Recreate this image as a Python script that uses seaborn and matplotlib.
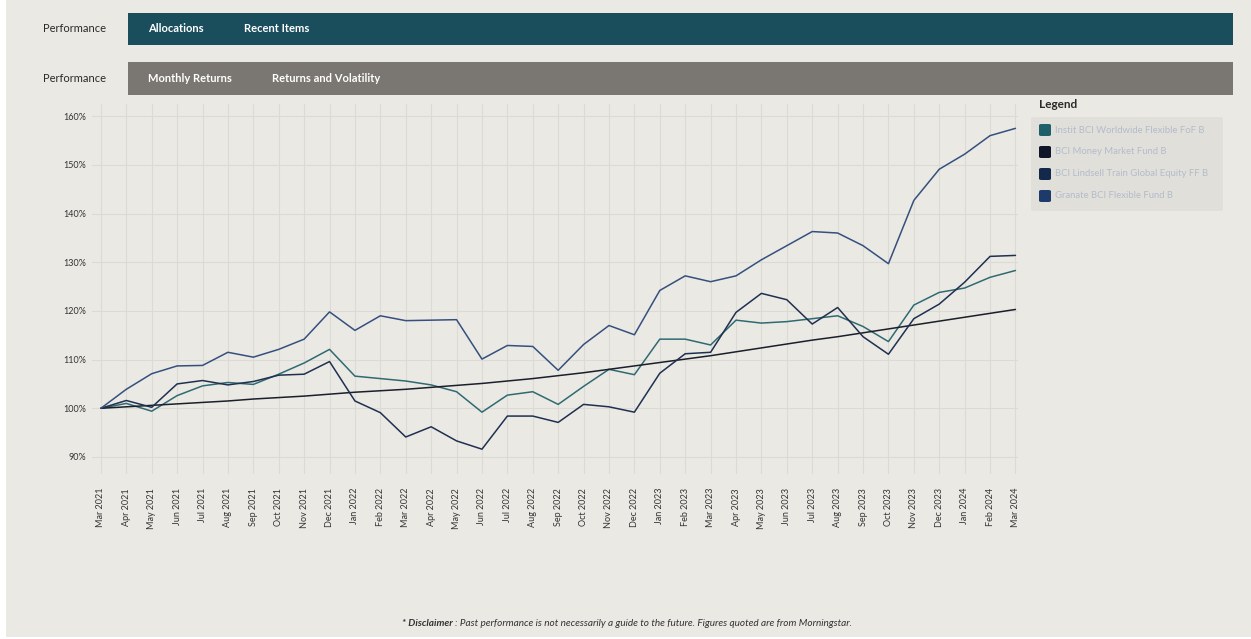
import pandas as pd
import matplotlib.pyplot as plt
import seaborn as sns
from matplotlib.patches import Rectangle, FancyBboxPatch
from matplotlib.ticker import FuncFormatter

# Datos (rendimiento acumulado, %)
months = ["Mar 2021", "Apr 2021", "May 2021", "Jun 2021", "Jul 2021", "Aug 2021", "Sep 2021",
          "Oct 2021", "Nov 2021", "Dec 2021", "Jan 2022", "Feb 2022", "Mar 2022", "Apr 2022",
          "May 2022", "Jun 2022", "Jul 2022", "Aug 2022", "Sep 2022", "Oct 2022", "Nov 2022",
          "Dec 2022", "Jan 2023", "Feb 2023", "Mar 2023", "Apr 2023", "May 2023", "Jun 2023",
          "Jul 2023", "Aug 2023", "Sep 2023", "Oct 2023", "Nov 2023", "Dec 2023", "Jan 2024",
          "Feb 2024", "Mar 2024"]

instit = [100.0, 101.0, 99.4, 102.6, 104.6, 105.3, 104.9, 107.0, 109.3, 112.1, 106.6, 106.1,
          105.6, 104.8, 103.4, 99.2, 102.7, 103.4, 100.8, 104.5, 108.0, 106.9, 114.2, 114.2,
          113.0, 118.1, 117.5, 117.8, 118.4, 119.0, 116.8, 113.7, 121.2, 123.8, 124.7, 126.9,
          128.3]
money = [100.0, 100.3, 100.6, 100.9, 101.2, 101.5, 101.9, 102.2, 102.5, 102.9, 103.3, 103.6,
         103.9, 104.3, 104.7, 105.1, 105.6, 106.1, 106.7, 107.3, 108.0, 108.7, 109.4, 110.1,
         110.8, 111.6, 112.4, 113.2, 114.0, 114.7, 115.5, 116.3, 117.1, 117.9, 118.7, 119.5,
         120.3]
lindsell = [100.0, 101.6, 100.2, 105.0, 105.7, 104.8, 105.5, 106.8, 107.0, 109.6, 101.5, 99.1,
            94.1, 96.2, 93.3, 91.6, 98.4, 98.4, 97.1, 100.8, 100.3, 99.2, 107.2, 111.2,
            111.5, 119.7, 123.6, 122.3, 117.3, 120.7, 114.7, 111.1, 118.4, 121.4, 125.9, 131.2,
            131.4]
granate = [100.0, 103.9, 107.1, 108.7, 108.8, 111.5, 110.5, 112.1, 114.2, 119.8, 116.0, 119.0,
           118.0, 118.1, 118.2, 110.1, 112.9, 112.7, 107.8, 113.1, 117.0, 115.1, 124.2, 127.2,
           126.0, 127.2, 130.5, 133.4, 136.3, 136.0, 133.4, 129.7, 142.7, 149.1, 152.2, 156.0,
           157.5]

fund_names = ["Instit BCI Worldwide Flexible FoF B", "BCI Money Market Fund B",
              "BCI Lindsell Train Global Equity FF B", "Granate BCI Flexible Fund B"]
line_colors = ["#2f6a72", "#1a1f2b", "#1f3050", "#35507e"]
swatch_colors = ["#1f5f69", "#0e1628", "#14284c", "#1d3a6b"]

rows = []
for name, vals in zip(fund_names, [instit, money, lindsell, granate]):
    for i, v in enumerate(vals):
        rows.append({"idx": i, "value": v, "fund": name})
df = pd.DataFrame(rows)

W, H = 1251, 639
BG = "#ebe9e4"

sns.set_theme(style="white")
plt.rcParams["font.family"] = ["Lato", "DejaVu Sans"]

fig = plt.figure(figsize=(W / 100, H / 100), dpi=100)
fig.patch.set_facecolor("white")


def px_rect(x0, y0, x1, y1, **kw):
    # rectángulo en coordenadas de píxel (origen arriba a la izquierda)
    fig.patches.append(Rectangle((x0 / W, 1 - y1 / H), (x1 - x0) / W, (y1 - y0) / H,
                                 transform=fig.transFigure, **kw))


def px_text(x, y, s, **kw):
    return fig.text(x / W, 1 - y / H, s, **kw)


# fondo del panel
px_rect(6, 0, W, 637, facecolor=BG, edgecolor="none", zorder=-10)

# barras de pestañas
px_rect(128, 13, 1233, 45, facecolor="#1b4e5d", edgecolor="none", zorder=-5)
px_rect(128, 62, 1233, 95, facecolor="#7a7671", edgecolor="none", zorder=-5)
px_text(43, 29, "Performance", fontsize=8, color="#2a2a2a", va="center")
px_text(43, 79, "Performance", fontsize=8, color="#2a2a2a", va="center")
px_text(148, 29, "Allocations", fontsize=8, color="white", fontweight="bold", va="center")
px_text(244, 29, "Recent Items", fontsize=8, color="white", fontweight="bold", va="center")
px_text(148, 79, "Monthly Returns", fontsize=8, color="white", fontweight="bold", va="center")
px_text(272, 79, "Returns and Volatility", fontsize=8, color="white", fontweight="bold", va="center")

# gráfico principal
ax_l, ax_r, ax_t, ax_b = 92, 1018, 104, 474
ax = fig.add_axes([ax_l / W, 1 - ax_b / H, (ax_r - ax_l) / W, (ax_b - ax_t) / H])
ax.set_zorder(2)
ax.set_facecolor(BG)

sns.lineplot(data=df, x="idx", y="value", hue="fund", palette=dict(zip(fund_names, line_colors)),
             hue_order=fund_names, linewidth=1.1, legend=False, ax=ax)

ax.set_xlim(-0.35, 36.1)
ax.set_ylim(86.5, 162.5)
ax.set_xticks(range(len(months)))
ax.set_xticklabels(months, rotation=90, fontsize=6.5, color="#333333")
ax.set_yticks([90, 100, 110, 120, 130, 140, 150, 160])
ax.yaxis.set_major_formatter(FuncFormatter(lambda v, p: f"{v:.0f}%"))
ax.tick_params(axis="y", labelsize=6.5, labelcolor="#333333", pad=4, length=0)
ax.tick_params(axis="x", pad=10, length=0)
ax.grid(True, color="#dcdad4", linewidth=0.8)
ax.set_xlabel("")
ax.set_ylabel("")
for s in ax.spines.values():
    s.set_visible(False)

# leyenda
px_text(1039, 105, "Legend", fontsize=8.5, color="#2a2a2a", fontweight="bold", va="center")
fig.patches.append(FancyBboxPatch((1031 / W, 1 - 211 / H), 192 / W, 94 / H,
                                  boxstyle="round,pad=0,rounding_size=0.003",
                                  transform=fig.transFigure, facecolor="#e1dfda",
                                  edgecolor="none", zorder=-5))
for i, (name, c) in enumerate(zip(fund_names, swatch_colors)):
    yc = 130 + i * 22
    fig.patches.append(FancyBboxPatch((1039 / W, 1 - (yc + 6) / H), 12 / W, 12 / H,
                                      boxstyle="round,pad=0,rounding_size=0.002",
                                      transform=fig.transFigure, facecolor=c, edgecolor="none"))
    px_text(1055, yc, name, fontsize=6.8, color="#b3bccb", va="center")

# aviso
px_text(453, 623, "* Disclaimer", fontsize=7.2, color="#333333", style="italic",
        fontweight="bold", ha="right", va="center")
px_text(455, 623, ": Past performance is not necessarily a guide to the future. Figures quoted are from Morningstar.",
        fontsize=7.2, color="#333333", style="italic", ha="left", va="center")

fig.savefig("out.png", dpi=100, facecolor=fig.get_facecolor())
